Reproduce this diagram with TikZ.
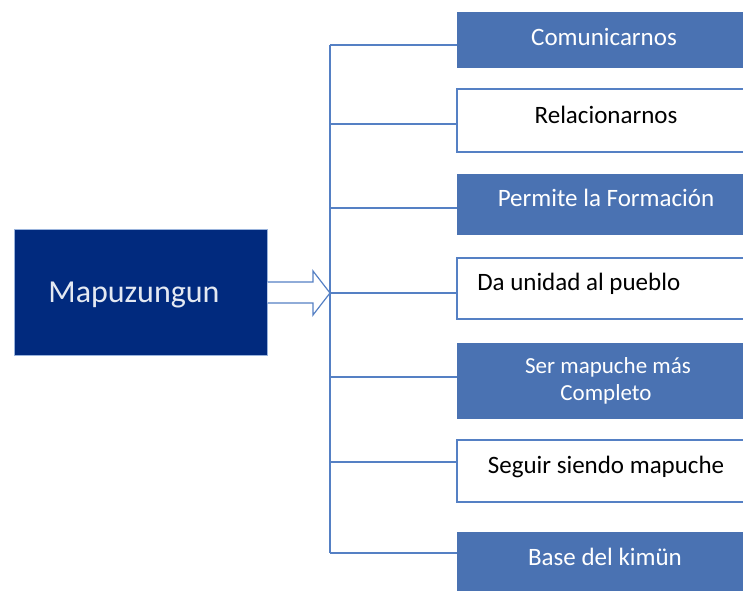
\documentclass[tikz,border=0pt]{standalone}
\usepackage{fontspec}
\setmainfont{Carlito}
\definecolor{navy}{HTML}{012A7E}
\definecolor{accent}{HTML}{4A72B2}
\definecolor{linec}{HTML}{5580C4}
\definecolor{lighttxt}{HTML}{E4E9F2}
\begin{document}
\begin{tikzpicture}[x=0.75pt,y=-0.75pt,
  conn/.style={draw=linec,line width=0.9pt},
  bluebox/.style={draw=none,fill=accent},
  whitebox/.style={draw=linec,line width=0.9pt,fill=white},
  wtxt/.style={text=white,font=\fontsize{18.75}{20}\selectfont,inner sep=0pt},
  btxt/.style={text=black,font=\fontsize{18.75}{20}\selectfont,inner sep=0pt}]
\useasboundingbox (0,0) rectangle (743,590);
\clip (0,0) rectangle (743,590);
% main box
\node[fill=navy,draw=linec!60,line width=0.5pt,minimum width=253*0.75pt,minimum height=126*0.75pt,inner sep=0pt,anchor=north west] (main) at (14,229) {};
\node[text=lighttxt,font=\fontsize{24}{26}\selectfont,inner sep=0pt,anchor=base] (maintxt) at (134,302) {Mapuzungun};
% right boxes
\foreach \n/\t/\b/\s in {b1/12/68/bluebox,b2/89/152/whitebox,b3/174/235/bluebox,b4/258/319/whitebox,b5/343/419/bluebox,b6/440/502/whitebox,b7/532/600/bluebox}{
  \path[\s] (457,\t) rectangle (760,\b);
  \coordinate (\n) at (457,{(\t+\b)/2});
}
\node[wtxt,anchor=base] (t1) at (604,45) {Comunicarnos};
\node[btxt,anchor=base] (t2) at (606,123) {Relacionarnos};
\node[wtxt,anchor=base] (t3) at (606,206) {Permite la Formación};
\node[btxt,anchor=base west] (t4) at (477,290) {Da unidad al pueblo};
\node[wtxt,anchor=base,font=\fontsize{17.25}{19}\selectfont] (t5a) at (608,373) {Ser mapuche más};
\node[wtxt,anchor=base,font=\fontsize{17.25}{19}\selectfont] (t5b) at (606,400) {Completo};
\node[btxt,anchor=base] (t6) at (606,473) {Seguir siendo mapuche};
\node[wtxt,anchor=base] (t7) at (605,565) {Base del kimün};
% connection points
\coordinate (tip) at (330,293);
\coordinate (c1) at (457,45);
\coordinate (c2) at (457,124);
\coordinate (c3) at (457,208);
\coordinate (c4) at (457,293);
\coordinate (c5) at (457,377);
\coordinate (c6) at (457,462);
\coordinate (c7) at (457,553);
\draw[conn] (c1 -| tip) -- (c7 -| tip);
\foreach \c in {c1,c2,c3,c4,c5,c6,c7}{
  \draw[conn] (\c -| tip) -- (\c);
}
% block arrow
\draw[conn,fill=white,line join=miter] (main.east |- 0,282) -- (313,282) -- (313,271) -- (tip) -- (313,315) -- (313,303) -- (main.east |- 0,303);
\end{tikzpicture}
\end{document}
